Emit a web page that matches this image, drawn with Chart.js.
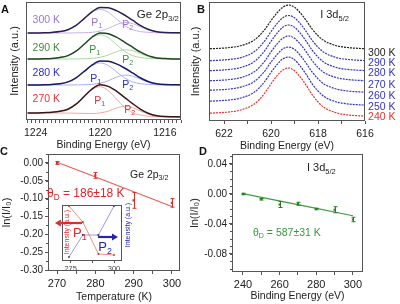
<!DOCTYPE html>
<html>
<head>
<meta charset="utf-8">
<script src="https://cdn.jsdelivr.net/npm/chart.js@4.4.1/dist/chart.umd.min.js"></script>
<style>
  body { margin: 0; background: #fff; }
  #wrap { position: relative; width: 400px; height: 304px; overflow: hidden; }
  #wrap canvas { position: absolute; }
  .tag { position: absolute; font: bold 11px 'Liberation Sans', Arial, sans-serif; line-height: 11px; color: #111; }
</style>
</head>
<body>
<div id="wrap">
  <canvas id="inset" width="90" height="80" style="left:50px;top:198px"></canvas>
  <canvas id="chartA" width="196" height="154" style="left:0;top:0"></canvas>
  <canvas id="chartB" width="214" height="154" style="left:186px;top:0"></canvas>
  <canvas id="chartC" width="196" height="154" style="left:0;top:150px"></canvas>
  <canvas id="chartD" width="214" height="154" style="left:186px;top:150px"></canvas>
  <div class="tag" style="left:1px;top:4px">A</div>
  <div class="tag" style="left:197px;top:4px">B</div>
  <div class="tag" style="left:0;top:146px">C</div>
  <div class="tag" style="left:199px;top:146px">D</div>
</div>
<script>
// ---- panel A: Ge 2p3/2 spectra (intensity in arbitrary units, stacked) ----
const energyA = [1224.5, 1224, 1223.5, 1223, 1222.5, 1222, 1221.5, 1221, 1220.5, 1220,
                 1219.5, 1219, 1218.5, 1218, 1217.5, 1217, 1216.5, 1216, 1215.5, 1215];
const env300 = [87, 87, 87.2, 87.6, 88.4, 90.3, 94.6, 101.4, 108.4, 112.5, 112.3, 109.4, 105, 99.8, 94.4, 90.5, 88.3, 87.4, 87.2, 87.1];
const p1_300 = [87, 87, 87.2, 87.6, 88.4, 90.3, 94.5, 101.1, 107.7, 110.5, 107.7, 101.1, 94.5, 90.3, 88.4, 87.6, 87.2, 87, 87, 87];
const p2_300 = [87, 87, 87, 87, 87, 87, 87.1, 87.3, 87.7, 89, 91.6, 95.3, 97.5, 96.5, 93, 89.9, 88.1, 87.4, 87.2, 87.1];
const env290 = [61, 61, 61.2, 61.6, 62.5, 64.4, 68.8, 75.7, 83, 87, 86.3, 82.8, 77.9, 72.8, 67.8, 64.1, 62.1, 61.4, 61.1, 61];
const p1_290 = [61, 61, 61.2, 61.6, 62.5, 64.4, 68.7, 75.5, 82.3, 85.2, 82.3, 75.5, 68.7, 64.4, 62.5, 61.6, 61.2, 61, 61, 61];
const p2_290 = [61, 61, 61, 61, 61, 61, 61.1, 61.2, 61.7, 62.8, 65, 68.3, 70.2, 69.4, 66.3, 63.5, 61.9, 61.4, 61.1, 61];
const env280 = [35, 35, 35.2, 35.6, 36.3, 38.1, 42.2, 48.6, 55.1, 59, 58.7, 56.1, 52, 47.1, 42, 38.3, 36.2, 35.4, 35.2, 35.1];
const p1_280 = [35, 35, 35.2, 35.6, 36.3, 38.1, 42.1, 48.3, 54.4, 57.1, 54.4, 48.3, 42.1, 38.1, 36.3, 35.6, 35.2, 35, 35, 35];
const p2_280 = [35, 35, 35, 35, 35, 35, 35.1, 35.3, 35.7, 36.9, 39.3, 42.8, 44.9, 44, 40.7, 37.7, 36, 35.4, 35.2, 35.1];
const env270 = [7, 7, 7.3, 7.7, 8.7, 10.8, 15.8, 23.5, 31.2, 35.2, 33.6, 28.9, 22.7, 16.4, 10.7, 6.5, 4.3, 3.4, 3.2, 3.1];
const p1_270 = [7, 7, 7.3, 7.7, 8.7, 10.8, 15.7, 23.2, 30.5, 33.3, 29.3, 21, 12.7, 7.3, 4.9, 3.8, 3.3, 3, 3, 3];
const p2_270 = [7, 7, 7, 7, 7, 6.9, 6.8, 6.6, 6.5, 7.1, 8.9, 12, 13.7, 12.5, 9, 5.8, 4, 3.4, 3.2, 3.1];

// ---- panel B: I 3d5/2 spectra ----
const energyB = [622.6, 622.25, 621.75, 621.25, 620.75, 620.5, 620.25, 620, 619.75, 619.5, 619.25,
                 619, 618.75, 618.5, 618.25, 618, 617.75, 617.25, 616.75, 616.25, 616];
const i300 = [72.3, 72.6, 73.5, 75.5, 80.4, 85.3, 92, 100.4, 108, 113.8, 116, 113.8, 108, 100.4, 92, 85.3, 80.4, 75.5, 73.5, 72.6, 72.4];
const i290 = [60.3, 60.7, 61.6, 63.6, 68.7, 73.8, 80.7, 89.4, 97.2, 103.2, 105.5, 103.2, 97.2, 89.4, 80.7, 73.8, 68.7, 63.6, 61.6, 60.7, 60.4];
const i280 = [50.3, 50.7, 51.6, 53.7, 58.8, 63.9, 70.9, 79.7, 87.6, 93.7, 96, 93.7, 87.6, 79.7, 70.9, 63.9, 58.8, 53.7, 51.6, 50.7, 50.4];
const i270 = [40.3, 40.6, 41.5, 43.6, 48.6, 53.6, 60.4, 69.1, 76.8, 82.7, 85, 82.7, 76.8, 69.1, 60.4, 53.6, 48.6, 43.6, 41.5, 40.6, 40.4];
const i260 = [30.8, 31.1, 32, 34.1, 38.9, 43.8, 50.4, 58.9, 66.3, 72, 74, 71.6, 65.5, 57.7, 49, 42.2, 37.1, 32.2, 30, 29.1, 28.9];
const i250 = [19.8, 20.2, 21.1, 23.2, 28.2, 33.2, 40, 48.7, 56.3, 62.1, 64, 61.3, 54.7, 46.5, 37.2, 30, 24.6, 19.3, 17.1, 16.2, 15.9];
const i240 = [7.8, 8.2, 9.1, 11.3, 16.4, 21.4, 28.5, 37.2, 45.1, 50.9, 53, 50.3, 43.9, 35.6, 26.4, 19, 13.7, 8.4, 6.1, 5.2, 5];
const labelsB = ['300 K', '290 K', '280 K', '270 K', '260 K', '250 K', '240 K'];
const labelYB = [68, 58, 48, 36, 25, 14, 4];

// ---- panel C: ln(I/I0) for Ge 2p3/2 ----
const tempC = [270, 280, 290, 300];
const lnC = [0.000, -0.035, -0.105, -0.112];
const errC = [0.004, 0.008, 0.022, 0.012];
const fitTC = [270, 300];
const fitC = [0.002, -0.122];
const ticksYC = [0, -0.05, -0.10, -0.15, -0.20, -0.25, -0.30];
// inset: P1 / P2 intensities
const insetT = [274, 282, 291, 300];
const insetP1 = [55, 39, 7, 6];
const insetP2 = [4, 26, 26, 55];

// ---- panel D: ln(I/I0) for I 3d5/2 ----
const tempD = [240, 250, 260, 270, 280, 290, 300];
const lnD = [0.000, -0.007, -0.014, -0.013, -0.020, -0.021, -0.034];
const errD = [0.001, 0.001, 0.004, 0.002, 0.001, 0.004, 0.003];
const fitTD = [240, 300];
const fitD = [0.0005, -0.029];
const ticksYD = [0.04, 0, -0.04, -0.08];

const FONT = "'Liberation Sans', Arial, sans-serif";
const frameColor = '#555';
Chart.defaults.font.family = FONT;
Chart.defaults.color = '#222';
Chart.defaults.animation = false;
Chart.defaults.plugins.legend.display = false;
Chart.defaults.plugins.tooltip.enabled = false;

function pts(xs, ys) { return xs.map((x, i) => ({ x: x, y: ys[i] })); }
function isMult(v, s) { const r = v / s; return Math.abs(r - Math.round(r)) < 1e-6; }
function fmt2(v) { return Math.abs(v) < 1e-9 ? '0.00' : v.toFixed(2); }

function curve(xs, ys, color, width, dash) {
  return { data: pts(xs, ys), showLine: true, borderColor: color, borderWidth: width,
           borderDash: dash || [], pointRadius: 0, cubicInterpolationMode: 'monotone' };
}

function noPad(s) { s.paddingTop = 0; s.paddingBottom = 0; s.paddingLeft = 0; s.paddingRight = 0; }

function xAxis(o) {
  return {
    type: 'linear', position: 'bottom', min: o.min, max: o.max, reverse: !!o.reverse,
    ticks: { stepSize: o.minor, autoSkip: false, includeBounds: false, maxRotation: 0, padding: o.pad || 3,
             font: { size: o.size || 11 }, color: '#222',
             callback: v => isMult(v, o.major) ? String(v) : '' },
    grid: { drawOnChartArea: false, drawTicks: true, tickLength: o.tick || 3, color: frameColor },
    border: { display: false },
    title: { display: !!o.title, text: o.title, color: '#222', font: { size: 10.5 },
             padding: { top: 0, bottom: o.titlePad || 0 } },
    afterFit: s => { s.height = o.height; noPad(s); }
  };
}

// y axis with labelled tick marks at the listed values
function yAxis(o) {
  const ax = {
    type: 'linear', position: 'left', min: o.min, max: o.max,
    grid: { display: false }, border: { display: false },
    title: { display: true, text: o.title, color: '#222', font: { size: 11 },
             padding: { top: o.titlePad, bottom: 0 } },
    afterFit: s => { s.width = o.width; noPad(s); }
  };
  if (o.values) {
    ax.ticks = { autoSkip: false, padding: 2, font: { size: 10 }, color: '#222', callback: v => fmt2(v) };
    ax.afterBuildTicks = s => { s.ticks = o.values.map(v => ({ value: v })); };
    ax.grid = { display: true, drawOnChartArea: false, drawTicks: true, tickLength: 3, color: frameColor };
  } else {
    ax.ticks = { display: false };
  }
  return ax;
}

// short unlabeled tick marks on the y axis between the labelled ones
function minorY(step) {
  return {
    id: 'minorY',
    afterDraw(chart) {
      const { ctx, chartArea: a, scales: { y } } = chart;
      ctx.save();
      ctx.strokeStyle = frameColor; ctx.lineWidth = 1;
      ctx.beginPath();
      for (let k = Math.ceil(y.min / step); k * step <= y.max + 1e-9; k++) {
        const py = Math.round(y.getPixelForValue(k * step)) + 0.5;
        ctx.moveTo(a.left - 2, py); ctx.lineTo(a.left, py);
      }
      ctx.stroke();
      ctx.restore();
    }
  };
}

// frame around the plot area
const boxPlugin = {
  id: 'box',
  afterDraw(chart) {
    const { ctx, chartArea: a } = chart;
    ctx.save();
    ctx.strokeStyle = frameColor;
    ctx.lineWidth = 1;
    ctx.strokeRect(Math.round(a.left) + 0.5, Math.round(a.top) + 0.5,
                   Math.round(a.right - a.left) - 1, Math.round(a.bottom - a.top) - 1);
    ctx.restore();
  }
};

// vertical error bars for datasets that carry an `errors` list
const errPlugin = {
  id: 'errs',
  afterDatasetsDraw(chart) {
    const { ctx, scales: { x, y } } = chart;
    chart.data.datasets.forEach(ds => {
      if (!ds.errors) return;
      ctx.save();
      ctx.strokeStyle = ds.errColor;
      ctx.lineWidth = 1;
      ds.data.forEach((p, i) => {
        const px = Math.round(x.getPixelForValue(p.x)) + 0.5;
        const y1 = y.getPixelForValue(p.y + ds.errors[i]);
        const y2 = y.getPixelForValue(p.y - ds.errors[i]);
        ctx.beginPath();
        ctx.moveTo(px, y1); ctx.lineTo(px, y2);
        ctx.moveTo(px - 2, y1); ctx.lineTo(px + 2, y1);
        ctx.moveTo(px - 2, y2); ctx.lineTo(px + 2, y2);
        ctx.stroke();
      });
      ctx.restore();
    });
  }
};

// text notes (with optional subscript) and arrows, placed in data coordinates
function notes(items, arrows) {
  return {
    id: 'notes',
    afterDraw(chart) {
      const { ctx, scales: { x, y } } = chart;
      (arrows || []).forEach(a => {
        const x1 = x.getPixelForValue(a.x1), y1 = y.getPixelForValue(a.y1);
        const x2 = x.getPixelForValue(a.x2), y2 = y.getPixelForValue(a.y2);
        const ang = Math.atan2(y2 - y1, x2 - x1), h = 6, w = 3.5;
        const bx = x2 - h * Math.cos(ang), by = y2 - h * Math.sin(ang);
        ctx.save();
        ctx.strokeStyle = a.color; ctx.fillStyle = a.color; ctx.lineWidth = 2.2;
        ctx.beginPath(); ctx.moveTo(x1, y1); ctx.lineTo(bx, by); ctx.stroke();
        ctx.beginPath();
        ctx.moveTo(x2, y2);
        ctx.lineTo(bx + w * Math.sin(ang), by - w * Math.cos(ang));
        ctx.lineTo(bx - w * Math.sin(ang), by + w * Math.cos(ang));
        ctx.closePath(); ctx.fill();
        ctx.restore();
      });
      items.forEach(n => {
        const size = n.size || 11;
        const main = size + 'px ' + FONT, small = (size * 0.68).toFixed(1) + 'px ' + FONT;
        ctx.save();
        ctx.translate(x.getPixelForValue(n.x), y.getPixelForValue(n.y));
        if (n.rotate) ctx.rotate(n.rotate);
        ctx.fillStyle = n.color || '#222';
        ctx.textBaseline = 'middle';
        ctx.textAlign = 'left';
        ctx.font = main; const w1 = ctx.measureText(n.text).width;
        ctx.font = small; const w2 = n.sub ? ctx.measureText(n.sub).width : 0;
        ctx.font = main; const w3 = n.after ? ctx.measureText(n.after).width : 0;
        const total = w1 + w2 + w3;
        const x0 = n.align === 'center' ? -total / 2 : 0;
        ctx.fillText(n.text, x0, 0);
        if (n.sub) { ctx.font = small; ctx.fillText(n.sub, x0 + w1, size * 0.32); }
        if (n.after) { ctx.font = main; ctx.fillText(n.after, x0 + w1 + w2, 0); }
        ctx.restore();
      });
    }
  };
}

// ---------- A ----------
const colA = {
  300: { env: '#2c1f58', comp: '#c6b3e6', text: '#9a76cc' },
  290: { env: '#1f4622', comp: '#a8d8a2', text: '#3c8f3c' },
  280: { env: '#17186a', comp: '#aab0ea', text: '#2b30b5' },
  270: { env: '#3a1518', comp: '#f2a6a6', text: '#e2343a' }
};
new Chart(document.getElementById('chartA'), {
  type: 'scatter',
  data: { datasets: [
    curve(energyA, env300, colA[300].env, 1.5), curve(energyA, env290, colA[290].env, 1.5),
    curve(energyA, env280, colA[280].env, 1.5), curve(energyA, env270, colA[270].env, 1.5),
    curve(energyA, p1_300, colA[300].comp, 1), curve(energyA, p2_300, colA[300].comp, 1),
    curve(energyA, p1_290, colA[290].comp, 1), curve(energyA, p2_290, colA[290].comp, 1),
    curve(energyA, p1_280, colA[280].comp, 1), curve(energyA, p2_280, colA[280].comp, 1),
    curve(energyA, p1_270, colA[270].comp, 1), curve(energyA, p2_270, colA[270].comp, 1)
  ] },
  options: {
    responsive: false, devicePixelRatio: 1,
    layout: { padding: { top: 2, right: 15, left: 0, bottom: 0 } },
    scales: {
      x: xAxis({ min: 1215, max: 1224.6, reverse: true, minor: 0.25, major: 4, height: 34,
                 pad: 4, size: 10.5, title: 'Binding Energy (eV)', titlePad: 2.7 }),
      y: yAxis({ min: 0, max: 118, width: 26, title: 'Intensity (a.u.)', titlePad: 8 })
    }
  },
  plugins: [boxPlugin, notes([
    { x: 1224.19, y: 100, text: '300 K', color: colA[300].text, size: 10.5 },
    { x: 1224.19, y: 72, text: '290 K', color: colA[290].text, size: 10.5 },
    { x: 1224.19, y: 47, text: '280 K', color: colA[280].text, size: 10.5 },
    { x: 1224.19, y: 21, text: '270 K', color: colA[270].text, size: 10.5 },
    { x: 1220.22, y: 97, text: 'P', sub: '1', color: colA[300].text, align: 'center', size: 10.5 },
    { x: 1218.3, y: 95, text: 'P', sub: '2', color: colA[300].text, align: 'center', size: 10.5 },
    { x: 1220.34, y: 70, text: 'P', sub: '1', color: colA[290].text, align: 'center', size: 10.5 },
    { x: 1218.3, y: 60, text: 'P', sub: '2', color: colA[290].text, align: 'center', size: 10.5 },
    { x: 1220.28, y: 41, text: 'P', sub: '1', color: colA[280].text, align: 'center', size: 10.5 },
    { x: 1218.3, y: 35, text: 'P', sub: '2', color: colA[280].text, align: 'center', size: 10.5 },
    { x: 1220.03, y: 19, text: 'P', sub: '1', color: colA[270].text, align: 'center', size: 10.5 },
    { x: 1218.17, y: 10, text: 'P', sub: '2', color: colA[270].text, align: 'center', size: 10.5 },
    { x: 1217.74, y: 105, text: 'Ge 2p', sub: '3/2', color: '#222', size: 11.5 }
  ])]
});

// ---------- B ----------
const colB = ['#1e1e1e', '#3434bb', '#3434bb', '#3434bb', '#3434bb', '#3434bb', '#e53030'];
const seriesB = [i300, i290, i280, i270, i260, i250, i240];
new Chart(document.getElementById('chartB'), {
  type: 'scatter',
  data: { datasets: seriesB.map((s, k) => curve(energyB, s, colB[k], 1.2, [2, 1])) },
  options: {
    responsive: false, devicePixelRatio: 1,
    layout: { padding: { top: 2, right: 35, left: 0, bottom: 0 } },
    scales: {
      x: xAxis({ min: 616, max: 622.64, reverse: true, minor: 1, major: 2, height: 33,
                 pad: 4, size: 10.5, title: 'Binding Energy (eV)', titlePad: 1.7 }),
      y: yAxis({ min: 0, max: 119, width: 23, title: 'Intensity (a.u.)', titlePad: 3.4 })
    }
  },
  plugins: [boxPlugin, notes(labelsB.map((t, k) => (
    { x: 615.87, y: labelYB[k], text: t, color: colB[k], size: 10.5 }
  )).concat([{ x: 617.91, y: 106, text: 'I 3d', sub: '5/2', color: '#222', size: 11 }]))]
});

// ---------- C ----------
const redC = '#dd2c2c';
new Chart(document.getElementById('chartC'), {
  type: 'scatter',
  data: { datasets: [
    { data: pts(tempC, lnC), errors: errC, errColor: redC, pointStyle: 'rect', pointRadius: 1.6,
      backgroundColor: redC, borderColor: redC, borderWidth: 0 },
    curve(fitTC, fitC, '#e8605a', 1.2)
  ] },
  options: {
    responsive: false, devicePixelRatio: 1,
    layout: { padding: { top: 3, right: 16, left: 0, bottom: 0 } },
    scales: {
      x: xAxis({ min: 267.65, max: 302.1, minor: 5, major: 10, height: 33, pad: 3,
                 title: 'Temperature (K)', titlePad: 0.7 }),
      y: yAxis({ min: -0.3028, max: 0.025, values: ticksYC, width: 48,
                 title: 'ln(I/I\u2080)', titlePad: 0.4 })
    }
  },
  plugins: [boxPlugin, errPlugin, minorY(0.025), notes([
    { x: 289.05, y: -0.0333, text: 'Ge 2p', sub: '3/2', color: '#222', size: 10.5 },
    { x: 267.4, y: -0.0861, text: '\u03b8', sub: 'D', after: ' = 186\u00b118 K', color: '#e0252b', size: 12 }
  ])]
});

// inset of C
new Chart(document.getElementById('inset'), {
  type: 'scatter',
  data: { datasets: [
    { data: pts(insetT, insetP1), showLine: true, borderColor: '#f0907a', borderWidth: 1,
      pointStyle: 'rect', pointRadius: 1.2, pointBackgroundColor: '#b03020', pointBorderWidth: 0 },
    { data: pts(insetT, insetP2), showLine: true, borderColor: '#9a9ad6', borderWidth: 1,
      pointStyle: 'rect', pointRadius: 1.2, pointBackgroundColor: '#23238a', pointBorderWidth: 0 }
  ] },
  options: {
    responsive: false, devicePixelRatio: 1,
    layout: { padding: { top: 7, right: 18, left: 0, bottom: 0 } },
    scales: {
      x: {
        type: 'linear', min: 270, max: 304.6,
        ticks: { stepSize: 12.5, autoSkip: false, includeBounds: false, maxRotation: 0, padding: 1,
                 font: { size: 7.5 }, color: '#444',
                 callback: v => (v === 275 || v === 300) ? String(v) : '' },
        grid: { drawOnChartArea: false, tickLength: 2, color: frameColor },
        border: { display: false },
        afterFit: s => { s.height = 17; noPad(s); }
      },
      y: { type: 'linear', min: 0, max: 56, ticks: { display: false }, grid: { display: false },
           border: { display: false }, afterFit: s => { s.width = 12; noPad(s); } }
    }
  },
  plugins: [boxPlugin, notes([
    { x: 280.3, y: 28, text: 'P', sub: '1', color: '#e0252b', align: 'center', size: 13 },
    { x: 294.8, y: 14, text: 'P', sub: '2', color: '#2424b0', align: 'center', size: 13 },
    { x: 273, y: 29, text: 'Intensity (a.u.)', color: '#e0252b', align: 'center', size: 7, rotate: -Math.PI / 2 },
    { x: 308.2, y: 36, text: 'Intensity (a.u.)', color: '#2424b0', align: 'center', size: 7, rotate: -Math.PI / 2 }
  ], [
    { x1: 281.5, y1: 38, x2: 265.9, y2: 38, color: '#dd2c2c' },
    { x1: 290.8, y1: 24, x2: 302.3, y2: 24, color: '#2424b0' }
  ])]
});

// ---------- D ----------
const greenD = '#247d24';
new Chart(document.getElementById('chartD'), {
  type: 'scatter',
  data: { datasets: [
    { data: pts(tempD, lnD), errors: errD, errColor: greenD, pointStyle: 'rect', pointRadius: 1.5,
      backgroundColor: greenD, borderColor: greenD, borderWidth: 0 },
    curve(fitTD, fitD, '#3f9d3f', 1.2)
  ] },
  options: {
    responsive: false, devicePixelRatio: 1,
    layout: { padding: { top: 4, right: 37, left: 0, bottom: 0 } },
    scales: {
      x: xAxis({ min: 234, max: 305.5, minor: 10, major: 20, height: 32, pad: 3,
                 title: 'Binding Energy (eV)', titlePad: 1.7 }),
      y: yAxis({ min: -0.104, max: 0.0533, values: ticksYD, width: 46,
                 title: 'ln(I/I\u2080)', titlePad: 2.4 })
    }
  },
  plugins: [boxPlugin, errPlugin, minorY(0.01), notes([
    { x: 274.9, y: 0.0347, text: 'I 3d', sub: '5/2', color: '#222', size: 11 },
    { x: 245.45, y: -0.052, text: '\u03b8', sub: 'D', after: ' = 587\u00b131 K', color: '#3c963c', size: 10.5 }
  ])]
});
</script>
</body>
</html>
